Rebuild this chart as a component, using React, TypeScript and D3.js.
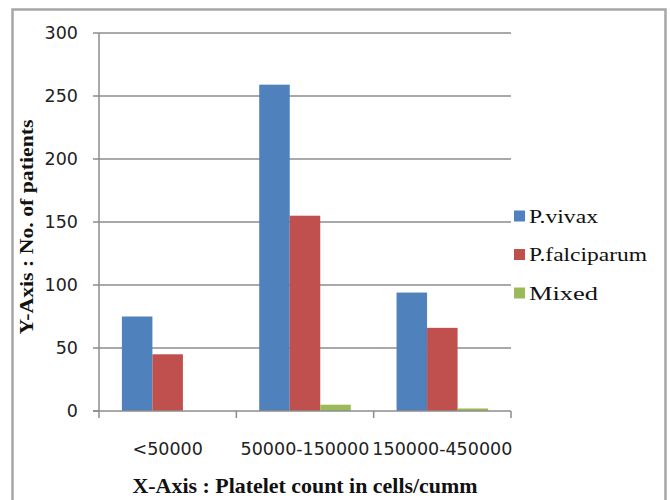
import React from "react";
import * as d3 from "d3";

const categories = ["<50000", "50000-150000", "150000-450000"];
const seriesNames = ["P.vivax", "P.falciparum", "Mixed"];
const vivax = [75, 259, 94];
const falciparum = [45, 155, 66];
const mixed = [0, 5, 2];
const yTicks = [0, 50, 100, 150, 200, 250, 300];
const colors = ["#4F81BD", "#C0504D", "#9BBB59"];

const W = 670;
const H = 500;
const plot = { left: 99, right: 511, top: 33, bottom: 411 };

export default function App() {
  const seriesValues = [vivax, falciparum, mixed];
  const y = d3.scaleLinear().domain([0, 300]).range([plot.bottom, plot.top]);
  const x0 = d3.scaleBand<string>().domain(categories).range([plot.left, plot.right]).paddingInner(0).paddingOuter(0);
  const bw = x0.bandwidth();
  const gap = (bw * 1.5) / 4.5;
  const x1 = d3.scaleBand<string>().domain(seriesNames).range([gap / 2, bw - gap / 2]).padding(0);
  const grid = "#8c8c8c";
  const sans = "'DejaVu Sans', Verdana, sans-serif";
  const serif = "'Liberation Serif', 'Times New Roman', serif";
  const boundaries = [...categories.map((c) => x0(c) as number), plot.right];

  return (
    <svg width={W} height={H} style={{ position: "absolute", left: 0, top: 0, background: "#fff" }}>
      <rect x={0} y={0} width={W} height={H} fill="#fff" />
      <rect x={12.5} y={9.5} width={653} height={520} fill="none" stroke="#a6a6a6" strokeWidth={2.5} />
      {/* gridlines and y ticks */}
      {yTicks.map((t) => (
        <g key={t}>
          {t > 0 && <line x1={plot.left} x2={plot.right} y1={y(t)} y2={y(t)} stroke={grid} strokeWidth={1.5} />}
          <line x1={plot.left - 6} x2={plot.left} y1={y(t)} y2={y(t)} stroke={grid} strokeWidth={1.5} />
          <text x={78} y={y(t)} dy="0.36em" textAnchor="end" fontFamily={sans} fontSize={17.5} fill="#222">
            {t}
          </text>
        </g>
      ))}
      {/* bars */}
      {categories.map((c, ci) => (
        <g key={c} transform={`translate(${x0(c)},0)`}>
          {seriesNames.map((s, si) => {
            const v = seriesValues[si][ci];
            return (
              <rect
                key={s}
                x={x1(s) as number}
                y={y(v)}
                width={x1.bandwidth()}
                height={plot.bottom - y(v)}
                fill={colors[si]}
              />
            );
          })}
        </g>
      ))}
      {/* axes */}
      <line x1={plot.left} x2={plot.left} y1={plot.top} y2={plot.bottom} stroke={grid} strokeWidth={1.5} />
      <line x1={plot.left - 6} x2={plot.right} y1={plot.bottom} y2={plot.bottom} stroke={grid} strokeWidth={1.5} />
      {boundaries.map((b, i) => (
        <line key={i} x1={b} x2={b} y1={plot.bottom} y2={plot.bottom + 7} stroke={grid} strokeWidth={1.5} />
      ))}
      {categories.map((c) => (
        <text key={c} x={(x0(c) as number) + bw / 2} y={455} textAnchor="middle" fontFamily={sans} fontSize={17.5} fill="#222">
          {c}
        </text>
      ))}
      {/* axis titles */}
      <text
        x={305}
        y={493}
        textAnchor="middle"
        fontFamily={serif}
        fontWeight="bold"
        fontSize={21}
        textLength={345}
        lengthAdjust="spacingAndGlyphs"
        fill="#111"
      >
        X-Axis : Platelet count in cells/cumm
      </text>
      <text
        transform={`translate(33,227) rotate(-90)`}
        textAnchor="middle"
        fontFamily={serif}
        fontWeight="bold"
        fontSize={19}
        textLength={215}
        lengthAdjust="spacingAndGlyphs"
        fill="#111"
      >
        Y-Axis : No. of patients
      </text>
      {/* legend */}
      {seriesNames.map((s, i) => {
        const cy = 216 + i * 38.5;
        return (
          <g key={s}>
            <rect x={514} y={cy - 5.5} width={11} height={11} fill={colors[i]} />
            <text x={529} y={cy + 6.5} fontFamily={serif} fontSize={19} fill="#111" textLength={[69, 118, 69][i]} lengthAdjust="spacingAndGlyphs">
              {s}
            </text>
          </g>
        );
      })}
    </svg>
  );
}
